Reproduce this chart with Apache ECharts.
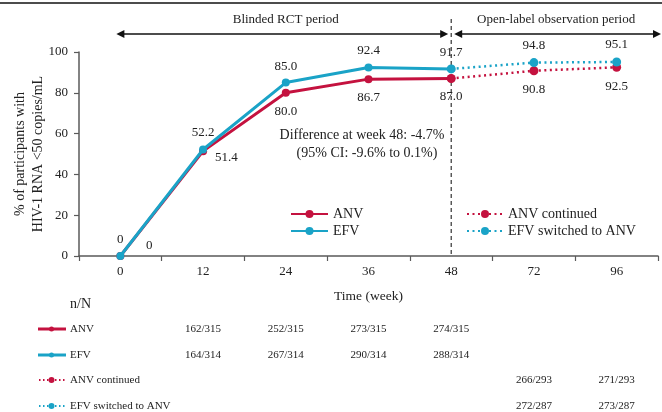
<!DOCTYPE html>
<html><head><meta charset="utf-8">
<script src="https://cdn.jsdelivr.net/npm/echarts@6/dist/echarts.min.js"></script>
<style>html,body{margin:0;padding:0;background:#fff}#c{width:662px;height:412px}</style>
</head><body><div id="c"></div>
<script>
// ---- data ----
const weeks = ['0', '12', '24', '36', '48', '72', '96'];
const anv = [0, 51.4, 80.0, 86.7, 87.0, null, null];
const efv = [0, 52.2, 85.0, 92.4, 91.7, null, null];
const anvContinued = [null, null, null, null, 87.0, 90.8, 92.5];
const efvSwitched = [null, null, null, null, 91.7, 94.8, 95.1];
const yTicks = [0, 20, 40, 60, 80, 100];
const nN_anv = ['', '162/315', '252/315', '273/315', '274/315', '', ''];
const nN_efv = ['', '164/314', '267/314', '290/314', '288/314', '', ''];
const nN_anvCont = ['', '', '', '', '', '266/293', '271/293'];
const nN_efvSw = ['', '', '', '', '', '272/287', '273/287'];

const RED = '#C4123F', BLUE = '#1AA3C7';
const FONT = 'Liberation Serif';
const TXT = '#222';

const chart = echarts.init(document.getElementById('c'));

function mkData(arr, specials) {
  return arr.map((v, i) => (specials && specials[i]) ? Object.assign({ value: v }, specials[i]) : v);
}
const lbl = (pos, dist) => ({ show: true, position: pos, distance: dist, fontFamily: FONT, fontSize: 13, color: TXT });

const option = {
  animation: false,
  backgroundColor: '#fff',
  grid: { left: 79, right: 4, top: 52, bottom: 156, containLabel: false, outerBoundsMode: 'none' },
  xAxis: {
    type: 'category', data: weeks, boundaryGap: true,
    name: 'Time (week)', nameLocation: 'middle', nameGap: 33, nameMoveOverlap: false,
    nameTextStyle: { fontFamily: FONT, fontSize: 13.5, color: TXT },
    axisLine: { lineStyle: { color: '#5a5a5a', width: 1.5 } },
    axisTick: { show: true, alignWithLabel: false, length: 5, lineStyle: { color: '#5a5a5a', width: 1.2 } },
    axisLabel: { margin: 9, fontFamily: FONT, fontSize: 13, color: TXT },
    splitLine: { show: false }
  },
  yAxis: {
    type: 'value', min: yTicks[0], max: yTicks[yTicks.length - 1], interval: yTicks[1] - yTicks[0],
    name: '% of participants with\nHIV-1 RNA <50 copies/mL', nameLocation: 'middle', nameRotate: 90, nameGap: 32, nameMoveOverlap: false,
    nameTextStyle: { fontFamily: FONT, fontSize: 14, color: TXT, lineHeight: 18 },
    axisLine: { show: true, lineStyle: { color: '#5a5a5a', width: 1.5 } },
    axisTick: { show: true, length: 5, lineStyle: { color: '#5a5a5a', width: 1.2 } },
    axisLabel: { margin: 11, fontFamily: FONT, fontSize: 13, color: TXT },
    splitLine: { show: false }
  },
  legend: [
    { data: ['ANV', 'EFV'], left: 290, top: 207, padding: 0, orient: 'vertical', itemWidth: 37, itemHeight: 10, itemGap: 3,
      textStyle: { fontFamily: FONT, fontSize: 14, color: TXT, lineHeight: 14 } },
    { data: ['ANV continued', 'EFV switched to ANV'], left: 466, top: 207, padding: 0, orient: 'vertical', itemWidth: 36, itemHeight: 10, itemGap: 3,
      textStyle: { fontFamily: FONT, fontSize: 14, color: TXT, lineHeight: 14 } }
  ],
  series: [
    { name: 'ANV', type: 'line', data: mkData(anv, {
        0: { label: { position: 'top', offset: [29, 8] } },
        1: { label: { position: 'right', offset: [0, 6] } } }),
      color: RED, symbol: 'circle', symbolSize: 8, z: 3,
      lineStyle: { width: 3, color: RED }, itemStyle: { color: RED },
      label: Object.assign(lbl('bottom', 8), { formatter: p => p.value === 0 ? '0' : p.value.toFixed(1) }) },
    { name: 'EFV', type: 'line', data: efv,
      color: BLUE, symbol: 'circle', symbolSize: 8, z: 4,
      lineStyle: { width: 3, color: BLUE }, itemStyle: { color: BLUE },
      label: Object.assign(lbl('top', 6), { formatter: p => p.value === 0 ? '0' : p.value.toFixed(1) }) },
    { name: 'ANV continued', type: 'line', data: anvContinued,
      color: RED, symbol: 'circle', symbolSize: 9, z: 3,
      lineStyle: { width: 2.5, color: RED, type: [2, 3.5] }, itemStyle: { color: RED },
      label: Object.assign(lbl('bottom', 8), { formatter: p => p.dataIndex === 4 ? '' : p.value.toFixed(1) }) },
    { name: 'EFV switched to ANV', type: 'line', data: efvSwitched,
      color: BLUE, symbol: 'circle', symbolSize: 9, z: 4,
      lineStyle: { width: 2.5, color: BLUE, type: [2, 3.5] }, itemStyle: { color: BLUE },
      label: Object.assign(lbl('top', 6), { formatter: p => p.dataIndex === 4 ? '' : p.value.toFixed(1) }) }
  ]
};
chart.setOption(option);

// ---- decorations & table ----
const xs = weeks.map(w => chart.convertToPixel({ xAxisIndex: 0 }, w));
const y0 = chart.convertToPixel({ yAxisIndex: 0 }, 0);
const x48 = xs[4];
const g = [];
// top rule
g.push({ type: 'line', shape: { x1: 0, y1: 3, x2: 662, y2: 3 }, style: { stroke: '#111', lineWidth: 1.5 }, silent: true });
// vertical dashed divider
g.push({ type: 'line', shape: { x1: x48, y1: 19, x2: x48, y2: y0 }, style: { stroke: '#333', lineWidth: 1.2, lineDash: [4, 3] }, z: 1 });
// arrows
function arrow(xa, xb, y) {
  g.push({ type: 'line', shape: { x1: xa + 6, y1: y, x2: xb - 6, y2: y }, style: { stroke: '#111', lineWidth: 1.3 } });
  g.push({ type: 'polygon', shape: { points: [[xa, y], [xa + 8, y - 4], [xa + 8, y + 4]] }, style: { fill: '#111' } });
  g.push({ type: 'polygon', shape: { points: [[xb, y], [xb - 8, y - 4], [xb - 8, y + 4]] }, style: { fill: '#111' } });
}
arrow(xs[0] - 4, x48 - 3, 34);
arrow(x48 + 3, 661, 34);
const txt = (text, x, y, opts) => g.push({ type: 'text', x: x, y: y, style: Object.assign({ text: text, fill: TXT, font: '13px "' + FONT + '"', textAlign: 'center', textVerticalAlign: 'middle' }, opts || {}) });
txt('Blinded RCT period', (xs[0] + x48) / 2, 20);
txt('Open-label observation period', (x48 + 661) / 2, 20);
txt('Difference at week 48: -4.7%', 362, 135, { font: '14px "' + FONT + '"' });
txt('(95% CI: -9.6% to 0.1%)', 367, 153, { font: '14px "' + FONT + '"' });

// n/N table
txt('n/N', 70, 304, { textAlign: 'left', font: '14px "' + FONT + '"' });
const rows = [
  { name: 'ANV', color: RED, dotted: false, vals: nN_anv, y: 329 },
  { name: 'EFV', color: BLUE, dotted: false, vals: nN_efv, y: 355 },
  { name: 'ANV continued', color: RED, dotted: true, vals: nN_anvCont, y: 380 },
  { name: 'EFV switched to ANV', color: BLUE, dotted: true, vals: nN_efvSw, y: 406 }
];
rows.forEach(r => {
  if (r.dotted) {
    g.push({ type: 'line', shape: { x1: 39, y1: r.y, x2: 66, y2: r.y }, style: { stroke: r.color, lineWidth: 2, lineDash: [1.5, 2.5] } });
    g.push({ type: 'circle', shape: { cx: 51.5, cy: r.y, r: 3 }, style: { fill: r.color } });
  } else {
    g.push({ type: 'line', shape: { x1: 38, y1: r.y, x2: 66, y2: r.y }, style: { stroke: r.color, lineWidth: 3 } });
    g.push({ type: 'circle', shape: { cx: 51.5, cy: r.y, r: 2.5 }, style: { fill: r.color } });
  }
  txt(r.name, 70, r.y, { textAlign: 'left', font: '11px "' + FONT + '"' });
  r.vals.forEach((v, i) => { if (v) txt(v, xs[i], r.y, { font: '11px "' + FONT + '"' }); });
});
chart.setOption({ graphic: g });
</script>
</body></html>
